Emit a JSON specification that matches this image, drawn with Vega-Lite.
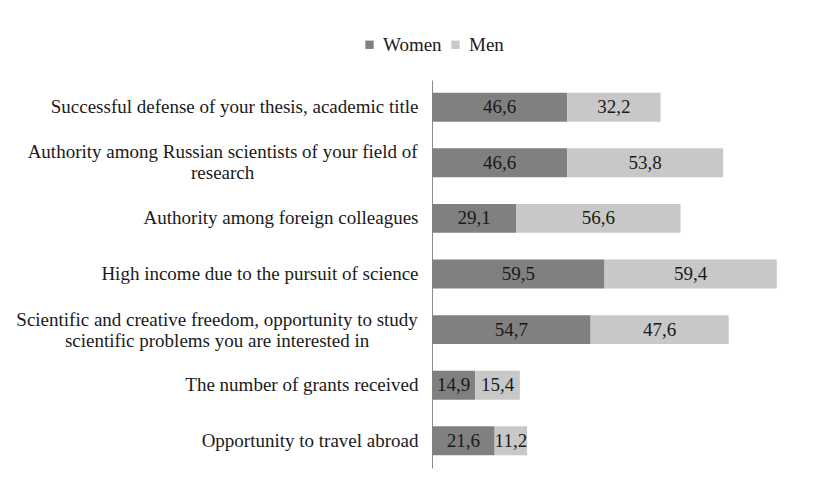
{
  "$schema": "https://vega.github.io/schema/vega-lite/v6.json",
  "width": 406,
  "height": 388,
  "autosize": {"type": "none"},
  "padding": {"left": 432, "top": 80, "right": 0, "bottom": 15},
  "background": "white",
  "config": {
    "font": "Liberation Serif",
    "view": {"stroke": null},
    "locale": {"number": {"decimal": ",", "thousands": " ", "grouping": [3], "currency": ["", ""]}}
  },
  "data": {
    "values": [
      {"item": "Successful defense of your thesis, academic title", "order": 1, "sex": "Women", "value": 46.6},
      {"item": "Successful defense of your thesis, academic title", "order": 1, "sex": "Men", "value": 32.2},
      {"item": "Authority among Russian scientists of your field of|research", "order": 2, "sex": "Women", "value": 46.6},
      {"item": "Authority among Russian scientists of your field of|research", "order": 2, "sex": "Men", "value": 53.8},
      {"item": "Authority among foreign colleagues", "order": 3, "sex": "Women", "value": 29.1},
      {"item": "Authority among foreign colleagues", "order": 3, "sex": "Men", "value": 56.6},
      {"item": "High income due to the pursuit of science", "order": 4, "sex": "Women", "value": 59.5},
      {"item": "High income due to the pursuit of science", "order": 4, "sex": "Men", "value": 59.4},
      {"item": "Scientific and creative freedom, opportunity to study|scientific problems you are interested in", "order": 5, "sex": "Women", "value": 54.7},
      {"item": "Scientific and creative freedom, opportunity to study|scientific problems you are interested in", "order": 5, "sex": "Men", "value": 47.6},
      {"item": "The number of grants received", "order": 6, "sex": "Women", "value": 14.9},
      {"item": "The number of grants received", "order": 6, "sex": "Men", "value": 15.4},
      {"item": "Opportunity to travel abroad", "order": 7, "sex": "Women", "value": 21.6},
      {"item": "Opportunity to travel abroad", "order": 7, "sex": "Men", "value": 11.2}
    ]
  },
  "transform": [
    {"calculate": "datum.sex === 'Women' ? 0 : 1", "as": "sexOrder"},
    {"stack": "value", "groupby": ["item"], "sort": [{"field": "sexOrder", "order": "ascending"}], "as": ["x0", "x1"]},
    {"calculate": "(datum.x0 + datum.x1) / 2", "as": "mid"}
  ],
  "encoding": {
    "y": {
      "field": "item",
      "type": "nominal",
      "sort": {"field": "order", "op": "min", "order": "ascending"},
      "scale": {"paddingInner": 0.48, "paddingOuter": 0.23},
      "axis": {
        "title": null,
        "ticks": false,
        "domainColor": "#8c8c8c",
        "domainWidth": 1,
        "labelFontSize": 19,
        "labelColor": "#1a1a1a",
        "labelPadding": 14,
        "labelLimit": 600,
        "labelExpr": "indexof(datum.label, '|') >= 0 ? '' : datum.label"
      }
    }
  },
  "layer": [
    {
      "mark": {"type": "bar"},
      "encoding": {
        "x": {"field": "x0", "type": "quantitative", "scale": {"domain": [0, 140], "nice": false}, "axis": null},
        "x2": {"field": "x1"},
        "color": {
          "field": "sex",
          "type": "nominal",
          "scale": {"domain": ["Women", "Men"], "range": ["#808080", "#c8c8c8"]},
          "legend": {
            "orient": "none",
            "legendX": -72,
            "legendY": -45,
            "direction": "horizontal",
            "title": null,
            "symbolType": "square",
            "symbolSize": 70,
            "symbolStrokeWidth": 0,
            "labelFontSize": 19,
            "labelColor": "#1a1a1a",
            "columnPadding": 4,
            "labelOffset": 4
          }
        }
      }
    },
    {
      "mark": {"type": "text", "fontSize": 19, "color": "#1a1a1a", "font": "Liberation Serif"},
      "encoding": {
        "x": {"field": "mid", "type": "quantitative"},
        "text": {"field": "value", "type": "quantitative", "format": ".1f"}
      }
    },
    {
      "transform": [{"filter": "datum.order === 2 && datum.sex === 'Women'"}],
      "mark": {"type": "text", "fontSize": 19, "color": "#1a1a1a", "font": "Liberation Serif", "align": "center", "baseline": "middle", "lineBreak": "|", "lineHeight": 21, "dy": -10.5},
      "encoding": {
        "x": {"datum": -72.2},
        "text": {"field": "item", "type": "nominal"}
      }
    },
    {
      "transform": [{"filter": "datum.order === 5 && datum.sex === 'Women'"}],
      "mark": {"type": "text", "fontSize": 19, "color": "#1a1a1a", "font": "Liberation Serif", "align": "center", "baseline": "middle", "lineBreak": "|", "lineHeight": 21, "dy": -10},
      "encoding": {
        "x": {"datum": -74.1},
        "text": {"field": "item", "type": "nominal"}
      }
    }
  ]
}
